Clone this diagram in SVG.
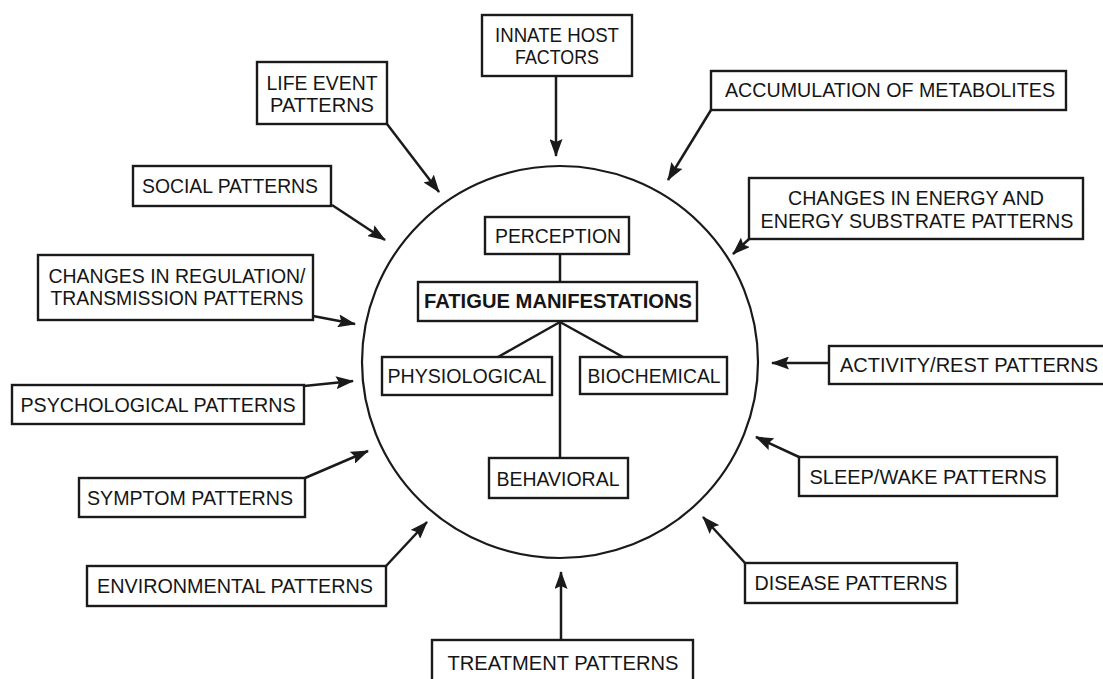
<svg xmlns="http://www.w3.org/2000/svg" width="1103" height="679" viewBox="0 0 1103 679">
<style>
.box{fill:#fff;stroke:#1a1a1a;stroke-width:2.4}
.t{font-family:"Liberation Sans",Arial,sans-serif;font-size:20.5px;fill:#151515;text-anchor:middle}
.b{font-weight:bold}
.c{stroke:#1a1a1a;stroke-width:2.5;fill:none}
.a{marker-end:url(#ah)}
</style>
<defs>
<marker id="ah" markerUnits="userSpaceOnUse" markerWidth="18" markerHeight="13" viewBox="0 0 18 13" refX="17" refY="6.5" orient="auto">
<path d="M0,0 L18,6.5 L0,13 L3,6.5 z" fill="#1a1a1a"/>
</marker>
</defs>
<rect width="1103" height="679" fill="#fff"/>
<ellipse cx="560" cy="362" rx="198" ry="196" fill="none" stroke="#1a1a1a" stroke-width="2.2"/>
<g id="connectors">
<line class="c a" x1="556" y1="76" x2="556" y2="156"/>
<line class="c a" x1="387" y1="124" x2="439" y2="192"/>
<line class="c a" x1="332" y1="205" x2="385" y2="240"/>
<line class="c a" x1="313" y1="316" x2="355" y2="324"/>
<line class="c a" x1="304" y1="386" x2="353" y2="381"/>
<line class="c a" x1="305" y1="478" x2="368" y2="451"/>
<line class="c a" x1="386" y1="566" x2="427" y2="522"/>
<line class="c a" x1="561" y1="640" x2="561" y2="572"/>
<line class="c a" x1="745" y1="563" x2="703" y2="517"/>
<line class="c a" x1="799" y1="457" x2="756" y2="437"/>
<line class="c a" x1="829" y1="363" x2="772" y2="363"/>
<line class="c a" x1="749" y1="239" x2="733" y2="254"/>
<line class="c a" x1="711" y1="110" x2="668" y2="180"/>
<line class="c" x1="560" y1="254" x2="560" y2="282"/>
<line class="c" x1="560" y1="322" x2="498" y2="357"/>
<line class="c" x1="560" y1="322" x2="623" y2="357"/>
<line class="c" x1="560" y1="322" x2="560" y2="458"/>
</g>
<g id="innate"><rect class="box" x="482" y="15" width="150" height="61"/><text class="t" x="557" y="42" textLength="124" lengthAdjust="spacingAndGlyphs">INNATE HOST</text><text class="t" x="557" y="64" textLength="84" lengthAdjust="spacingAndGlyphs">FACTORS</text></g>
<g id="lifeevent"><rect class="box" x="257" y="62" width="130" height="62"/><text class="t" x="322" y="90" textLength="111" lengthAdjust="spacingAndGlyphs">LIFE EVENT</text><text class="t" x="322" y="112" textLength="104" lengthAdjust="spacingAndGlyphs">PATTERNS</text></g>
<g id="accumulation"><rect class="box" x="711" y="71" width="355" height="39"/><text class="t" x="890" y="97" textLength="330" lengthAdjust="spacingAndGlyphs">ACCUMULATION OF METABOLITES</text></g>
<g id="social"><rect class="box" x="133" y="166" width="198" height="40"/><text class="t" x="230" y="193" textLength="176" lengthAdjust="spacingAndGlyphs">SOCIAL PATTERNS</text></g>
<g id="energy"><rect class="box" x="749" y="178" width="334" height="61"/><text class="t" x="916" y="205" textLength="256" lengthAdjust="spacingAndGlyphs">CHANGES IN ENERGY AND</text><text class="t" x="917" y="228" textLength="313" lengthAdjust="spacingAndGlyphs">ENERGY SUBSTRATE PATTERNS</text></g>
<g id="regulation"><rect class="box" x="38" y="255" width="275" height="65"/><text class="t" x="177" y="283" textLength="257" lengthAdjust="spacingAndGlyphs">CHANGES IN REGULATION/</text><text class="t" x="177" y="305" textLength="253" lengthAdjust="spacingAndGlyphs">TRANSMISSION PATTERNS</text></g>
<g id="psychological"><rect class="box" x="12" y="385" width="292" height="39"/><text class="t" x="158" y="412" textLength="275" lengthAdjust="spacingAndGlyphs">PSYCHOLOGICAL PATTERNS</text></g>
<g id="symptom"><rect class="box" x="79" y="478" width="226" height="39"/><text class="t" x="190" y="505" textLength="206" lengthAdjust="spacingAndGlyphs">SYMPTOM PATTERNS</text></g>
<g id="environmental"><rect class="box" x="87" y="566" width="299" height="40"/><text class="t" x="235" y="593" textLength="276" lengthAdjust="spacingAndGlyphs">ENVIRONMENTAL PATTERNS</text></g>
<g id="treatment"><rect class="box" x="432" y="640" width="261" height="42"/><text class="t" x="563" y="670" textLength="231" lengthAdjust="spacingAndGlyphs">TREATMENT PATTERNS</text></g>
<g id="disease"><rect class="box" x="745" y="563" width="212" height="40"/><text class="t" x="851" y="590" textLength="193" lengthAdjust="spacingAndGlyphs">DISEASE PATTERNS</text></g>
<g id="sleepwake"><rect class="box" x="799" y="457" width="258" height="39"/><text class="t" x="928" y="484" textLength="237" lengthAdjust="spacingAndGlyphs">SLEEP/WAKE PATTERNS</text></g>
<g id="activity"><rect class="box" x="829" y="346" width="276" height="38"/><text class="t" x="969" y="372" textLength="258" lengthAdjust="spacingAndGlyphs">ACTIVITY/REST PATTERNS</text></g>
<g id="perception"><rect class="box" x="485" y="217" width="144" height="37"/><text class="t" x="558" y="243" textLength="126" lengthAdjust="spacingAndGlyphs">PERCEPTION</text></g>
<g id="fatigue"><rect class="box" x="418" y="282" width="279" height="39"/><text class="t b" x="558" y="308" textLength="268" lengthAdjust="spacingAndGlyphs">FATIGUE MANIFESTATIONS</text></g>
<g id="physiological"><rect class="box" x="382" y="357" width="170" height="38"/><text class="t" x="467" y="383" textLength="159" lengthAdjust="spacingAndGlyphs">PHYSIOLOGICAL</text></g>
<g id="biochemical"><rect class="box" x="580" y="357" width="147" height="37"/><text class="t" x="654" y="383" textLength="133" lengthAdjust="spacingAndGlyphs">BIOCHEMICAL</text></g>
<g id="behavioral"><rect class="box" x="489" y="458" width="139" height="40"/><text class="t" x="558" y="486" textLength="123" lengthAdjust="spacingAndGlyphs">BEHAVIORAL</text></g>
</svg>
